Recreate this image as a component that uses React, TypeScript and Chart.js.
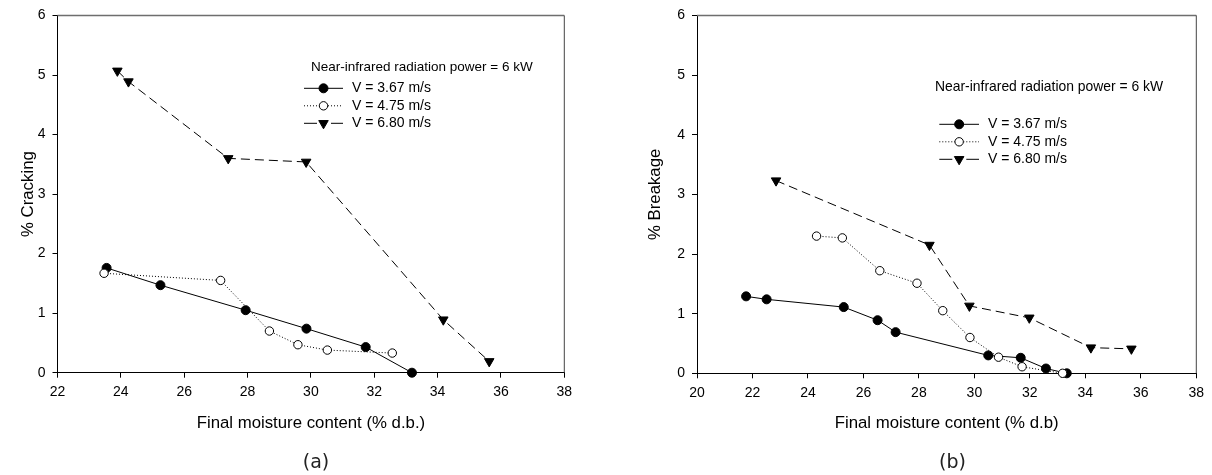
import React, { useEffect, useRef } from 'react';
import { Chart, registerables } from 'chart.js';
import { drawPoint } from 'chart.js/helpers';

Chart.register(...registerables);

// ---------- DATA ----------
const seriesLabels = ['V = 3.67 m/s', 'V = 4.75 m/s', 'V = 6.80 m/s'];
const legendTitle = 'Near-infrared radiation power = 6 kW';

// (a) Cracking
const crackX_367 = [23.55, 25.25, 27.94, 29.86, 31.73, 33.19];
const crackY_367 = [1.76, 1.47, 1.05, 0.74, 0.43, 0.0];
const crackX_475 = [23.47, 27.15, 28.69, 29.59, 30.52, 32.57];
const crackY_475 = [1.67, 1.55, 0.70, 0.47, 0.38, 0.33];
const crackX_680 = [23.89, 24.24, 27.39, 29.85, 34.18, 35.63];
const crackY_680 = [5.07, 4.89, 3.60, 3.54, 0.89, 0.19];

// (b) Breakage
const brkX_367 = [21.77, 22.51, 25.29, 26.51, 27.16, 30.50, 31.67, 32.58, 33.33];
const brkY_367 = [1.29, 1.24, 1.11, 0.89, 0.69, 0.30, 0.26, 0.08, 0.0];
const brkX_475 = [24.31, 25.24, 26.59, 27.93, 28.86, 29.84, 30.87, 31.72, 33.18];
const brkY_475 = [2.30, 2.27, 1.72, 1.51, 1.05, 0.60, 0.27, 0.11, 0.0];
const brkX_680 = [22.85, 28.38, 29.82, 31.98, 34.20, 35.66];
const brkY_680 = [3.23, 2.15, 1.13, 0.93, 0.43, 0.41];

// tick labels
const yTicks = [0, 1, 2, 3, 4, 5, 6];
const xTicksCrack = [22, 24, 26, 28, 30, 32, 34, 36, 38];
const xTicksBrk = [20, 22, 24, 26, 28, 30, 32, 34, 36, 38];

const xTitleCrack = 'Final moisture content (% d.b.)';
const xTitleBrk = 'Final moisture content (% d.b)';
const yTitleCrack = '% Cracking';
const yTitleBrk = '% Breakage';

// ---------- helpers ----------
const FONT = '"Liberation Sans", Arial, Helvetica, sans-serif';

const toPts = (xs: number[], ys: number[]) => xs.map((x, i) => ({ x, y: ys[i] }));

const styles = [
  {
    borderDash: [] as number[],
    pointStyle: 'circle',
    pointRadius: 4.5,
    pointBackgroundColor: '#000',
    pointRotation: 0,
  },
  {
    borderDash: [1, 2],
    pointStyle: 'circle',
    pointRadius: 4.2,
    pointBackgroundColor: '#fff',
    pointRotation: 0,
  },
  {
    borderDash: [9, 5],
    pointStyle: 'triangle',
    pointRadius: 5.5,
    pointBackgroundColor: '#000',
    pointRotation: 180,
  },
];

function makeDatasets(series: { x: number[]; y: number[] }[]) {
  return series.map((s, i) => ({
    label: seriesLabels[i],
    data: toPts(s.x, s.y),
    borderColor: '#000',
    borderWidth: 1,
    borderDash: styles[i].borderDash,
    pointStyle: styles[i].pointStyle,
    pointRadius: styles[i].pointRadius,
    pointHoverRadius: styles[i].pointRadius,
    pointBackgroundColor: styles[i].pointBackgroundColor,
    pointBorderColor: '#000',
    pointBorderWidth: 1,
    pointRotation: styles[i].pointRotation,
    showLine: true,
    fill: false,
    tension: 0,
    clip: false as any,
    order: 3 - i,
  }));
}

const customLegend = {
  id: 'customLegend',
  afterDraw(chart: any, _args: any, opts: any) {
    const { ctx } = chart;
    ctx.save();
    ctx.fillStyle = '#000';
    ctx.textBaseline = 'middle';
    ctx.textAlign = 'left';
    ctx.font = `${opts.titleSize}px ${FONT}`;
    ctx.fillText(opts.title, opts.titleX, opts.titleY);
    chart.data.datasets.forEach((ds: any, i: number) => {
      const y = opts.rows[i];
      ctx.save();
      ctx.strokeStyle = ds.borderColor;
      ctx.lineWidth = ds.borderWidth;
      ctx.setLineDash(opts.dashes[i]);
      ctx.beginPath();
      ctx.moveTo(opts.lineX0, y);
      ctx.lineTo(opts.lineX1, y);
      ctx.stroke();
      ctx.restore();
      ctx.save();
      ctx.fillStyle = ds.pointBackgroundColor;
      ctx.strokeStyle = ds.pointBorderColor;
      ctx.lineWidth = ds.pointBorderWidth;
      drawPoint(
        ctx,
        {
          pointStyle: ds.pointStyle,
          rotation: ds.pointRotation,
          radius: ds.pointRadius,
          borderWidth: ds.pointBorderWidth,
        } as any,
        (opts.lineX0 + opts.lineX1) / 2,
        y
      );
      ctx.restore();
      ctx.fillStyle = '#000';
      ctx.font = `${opts.textSize}px ${FONT}`;
      ctx.fillText(ds.label, opts.textX, y);
    });
    ctx.restore();
  },
};

const frame = {
  id: 'frame',
  beforeDatasetsDraw(chart: any) {
    const { ctx, chartArea } = chart;
    const { left, top, right, bottom } = chartArea;
    ctx.save();
    ctx.strokeStyle = '#6e6e6e';
    ctx.lineWidth = 1.5;
    ctx.beginPath();
    ctx.moveTo(left, top);
    ctx.lineTo(right, top);
    ctx.stroke();
    ctx.strokeStyle = '#444';
    ctx.lineWidth = 1;
    ctx.beginPath();
    ctx.moveTo(right, top);
    ctx.lineTo(right, bottom);
    ctx.stroke();
    ctx.restore();
  },
};

interface PanelCfg {
  datasets: any[];
  xTicks: number[];
  xTitle: string;
  yTitle: string;
  yAxisWidth: number;
  yTitlePad: number;
  xAxisHeight: number;
  xTitlePad: number;
  padTop: number;
  padRight: number;
  legend: any;
}

function buildConfig(c: PanelCfg): any {
  const tickFont = { family: FONT, size: 14 };
  const titleFont = { family: FONT, size: 16.8 };
  return {
    type: 'scatter',
    data: { datasets: c.datasets },
    plugins: [frame, customLegend],
    options: {
      responsive: false,
      animation: false,
      events: [],
      layout: { padding: { left: 0, top: c.padTop, right: c.padRight, bottom: 0 } },
      plugins: {
        legend: { display: false },
        tooltip: { enabled: false },
        customLegend: c.legend,
      },
      scales: {
        x: {
          type: 'linear',
          min: c.xTicks[0],
          max: c.xTicks[c.xTicks.length - 1],
          afterBuildTicks: (s: any) => {
            s.ticks = c.xTicks.map((v) => ({ value: v }));
          },
          afterFit: (s: any) => {
            s.height = c.xAxisHeight;
          },
          ticks: { font: tickFont, color: '#000', padding: 6.5, autoSkip: false, maxRotation: 0 },
          grid: { display: true, drawOnChartArea: false, drawTicks: true, tickLength: 5, color: '#000', lineWidth: 1 },
          border: { display: true, color: '#000', width: 1 },
          title: { display: true, text: c.xTitle, font: titleFont, color: '#000', padding: { top: 0, bottom: c.xTitlePad } },
        },
        y: {
          type: 'linear',
          min: yTicks[0],
          max: yTicks[yTicks.length - 1],
          afterBuildTicks: (s: any) => {
            s.ticks = yTicks.map((v) => ({ value: v }));
          },
          afterFit: (s: any) => {
            s.width = c.yAxisWidth;
          },
          ticks: { font: tickFont, color: '#000', padding: 7, autoSkip: false },
          grid: { display: true, drawOnChartArea: false, drawTicks: true, tickLength: 5, color: '#000', lineWidth: 1 },
          border: { display: true, color: '#000', width: 1 },
          title: { display: true, text: c.yTitle, font: titleFont, color: '#000', padding: { top: c.yTitlePad, bottom: 0 } },
        },
      },
    },
  };
}

function Panel({ cfg, left, tag, tagX }: { cfg: PanelCfg; left: number; tag: string; tagX: number }) {
  const ref = useRef<HTMLCanvasElement | null>(null);
  useEffect(() => {
    if (!ref.current) return;
    const chart = new Chart(ref.current, buildConfig(cfg));
    return () => chart.destroy();
  }, []);
  return (
    <div style={{ position: 'absolute', left, top: 0, width: 606, height: 475 }}>
      <canvas ref={ref} width={606} height={475} style={{ width: 606, height: 475, display: 'block' }} />
      <div
        style={{
          position: 'absolute',
          left: tagX - 40,
          width: 80,
          top: 449,
          textAlign: 'center',
          fontFamily: '"DejaVu Sans", sans-serif',
          fontSize: 19,
          lineHeight: '24px',
          color: '#222',
        }}
      >
        {tag}
      </div>
    </div>
  );
}

export default function App() {
  const crackCfg: PanelCfg = {
    datasets: makeDatasets([
      { x: crackX_367, y: crackY_367 },
      { x: crackX_475, y: crackY_475 },
      { x: crackX_680, y: crackY_680 },
    ]),
    xTicks: xTicksCrack,
    xTitle: xTitleCrack,
    yTitle: yTitleCrack,
    yAxisWidth: 57.5,
    yTitlePad: 18,
    xAxisHeight: 102.3,
    xTitlePad: 42,
    padTop: 15.5,
    padRight: 41.7,
    legend: {
      title: legendTitle,
      titleX: 311,
      titleY: 67,
      titleSize: 13.5,
      textSize: 14,
      rows: [88.3, 105.8, 123.3],
      lineX0: 304,
      lineX1: 343,
      textX: 352,
      dashes: [[], [1, 2], [13, 14]],
    },
  };
  const brkCfg: PanelCfg = {
    datasets: makeDatasets([
      { x: brkX_367, y: brkY_367 },
      { x: brkX_475, y: brkY_475 },
      { x: brkX_680, y: brkY_680 },
    ]),
    xTicks: xTicksBrk,
    xTitle: xTitleBrk,
    yTitle: yTitleBrk,
    yAxisWidth: 91,
    yTitlePad: 39.4,
    xAxisHeight: 101.7,
    xTitlePad: 42,
    padTop: 15,
    padRight: 15.7,
    legend: {
      title: legendTitle,
      titleX: 935 - 606,
      titleY: 87.3,
      titleSize: 13.9,
      textSize: 14,
      rows: [124.3, 141.8, 159.3],
      lineX0: 939.3 - 606,
      lineX1: 979 - 606,
      textX: 988 - 606,
      dashes: [[], [1, 2], [13, 14]],
    },
  };
  return (
    <div style={{ position: 'absolute', left: 0, top: 0, width: 1212, height: 475, background: '#fff' }}>
      <Panel cfg={crackCfg} left={0} tag="(a)" tagX={316} />
      <Panel cfg={brkCfg} left={606} tag="(b)" tagX={952.5 - 606} />
    </div>
  );
}
